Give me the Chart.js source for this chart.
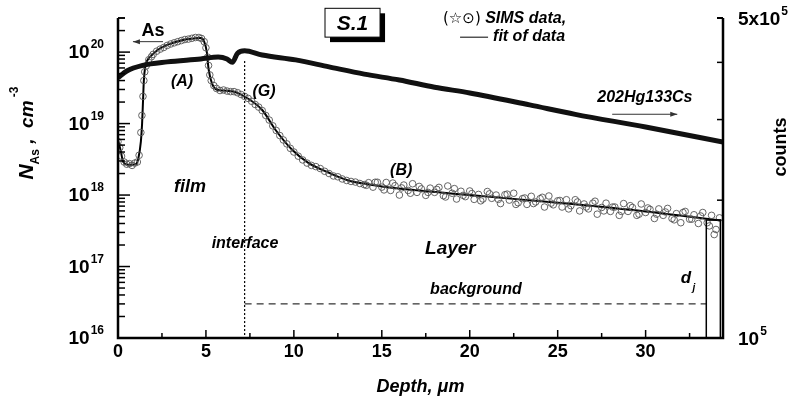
<!DOCTYPE html>
<html><head><meta charset="utf-8">
<script src="https://cdn.jsdelivr.net/npm/chart.js@4.4.1/dist/chart.umd.min.js"></script>
<style>html,body{margin:0;padding:0;background:#fff}</style>
</head><body>
<canvas id="c" width="803" height="400"></canvas>
<script>
// ---------- data ----------
// As concentration fit (depth in um, N_As in cm^-3)
const fitDepth = [0,0.15,0.3,0.6,1.0,1.15,1.3,1.37,1.42,1.47,1.55,1.7,1.85,2.25,2.8,3.7,4.3,4.7,4.9,5.05,5.15,5.35,5.6,6.0,6.7,7.25,8.2,8.95,9.9,10.8,12.0,13.1,14.2,15,20,25,30,34.3];
const fitConc  = [5.9e18,4.2e18,2.9e18,2.65e18,2.7e18,3.2e18,5.6e18,1.0e19,2.0e19,4.0e19,6.3e19,7.9e19,8.7e19,1.07e20,1.26e20,1.48e20,1.55e20,1.58e20,1.4e20,1.0e20,5.8e19,3.6e19,3.0e19,2.9e19,2.75e19,2.35e19,1.55e19,8.2e18,4.3e18,2.85e18,2.05e18,1.6e18,1.42e18,1.32e18,1.0e18,7.8e17,5.9e17,4.4e17];

// SIMS data points (circles)
const simsDepth = [0,0.1,0.2,0.35,0.5,0.65,0.8,0.95,1.1,1.2,1.3,1.36,1.42,1.47,1.52,1.6,1.75,1.9,
  2.0,2.2,2.4,2.6,2.8,3.0,3.2,3.4,3.6,3.8,4.0,4.2,4.4,4.6,4.75,4.9,5.0,5.1,5.15,5.22,5.3,5.45,5.6,5.8,6.0,6.2,6.4,6.6,6.8,7.0,7.2,7.4,7.6,7.8,8.0,8.2,8.4,8.6,8.8,9.0,9.2,9.4,9.6,9.8,10.0,10.25,10.5,10.75,11.0,11.25,11.5,11.75,12.0,12.25,12.5,12.75,13.0,13.25,13.5,13.75,14.0,
  14.25,14.5,14.75,15.0,15.25,15.5,15.75,16.0,16.25,16.5,16.75,17.0,17.25,17.5,17.75,18.0,18.25,18.5,18.75,19.0,19.25,19.5,19.75,20.0,20.25,20.5,20.75,21.0,21.25,21.5,21.75,22.0,22.25,22.5,22.75,23.0,23.25,23.5,23.75,24.0,24.25,24.5,24.75,25.0,25.25,25.5,25.75,26.0,26.25,26.5,26.75,27.0,27.25,27.5,27.75,28.0,28.25,28.5,28.75,29.0,29.25,29.5,29.75,30.0,30.25,30.5,30.75,31.0,31.25,31.5,31.75,32.0,32.25,32.5,32.75,33.0,33.25,33.5,33.75,34.0,34.2,
  14.125,14.625,15.125,15.625,16.125,16.625,17.125,17.625,18.125,18.625,19.125,19.625,20.125,20.625,21.125,21.625,22.125,22.625,23.125,23.625,24.125,24.625,25.125,25.625,26.125,26.625,27.125,27.625,28.125,28.625,29.125,29.625,30.125,30.625,31.125,31.625,32.125,32.625,33.125,33.625,33.9];
const simsConc = [5.6e18,4.6e18,3.5e18,2.9e18,2.7e18,2.75e18,2.6e18,2.8e18,2.9e18,3.6e18,7.5e18,1.3e19,2.4e19,4.0e19,5.3e19,6.4e19,7.8e19,8.6e19,
  9.3e19,1.03e20,1.1e20,1.16e20,1.24e20,1.3e20,1.35e20,1.4e20,1.45e20,1.5e20,1.52e20,1.56e20,1.6e20,1.6e20,1.55e20,1.4e20,1.15e20,8.5e19,6.5e19,4.8e19,4.0e19,3.4e19,3.1e19,2.9e19,2.95e19,2.85e19,2.8e19,2.8e19,2.7e19,2.55e19,2.4e19,2.25e19,2.05e19,1.85e19,1.7e19,1.52e19,1.3e19,1.12e19,9.3e18,8.0e18,6.8e18,5.9e18,5.2e18,4.5e18,4.0e18,3.5e18,3.1e18,2.8e18,2.6e18,2.5e18,2.35e18,2.15e18,2.0e18,1.85e18,1.8e18,1.68e18,1.6e18,1.55e18,1.52e18,1.45e18,1.4e18,
  1.49e18,1.29e18,1.51e18,1.29e18,1.50e18,1.16e18,1.35e18,1.0e18,1.38e18,1.16e18,1.44e18,1.09e18,1.22e18,9.9e17,1.25e18,1.09e18,1.28e18,9.8e17,1.34e18,1.06e18,8.8e17,1.13e18,9.5e17,1.14e18,8.7e17,1.02e18,8.8e17,1.12e18,9.0e17,1.0e18,7.6e17,1.01e18,8.5e17,1.06e18,7.8e17,8.9e17,7.4e17,9.6e17,8.0e17,8.9e17,6.8e17,9.7e17,7.3e17,8.3e17,6.8e17,8.6e17,7.1e17,8.6e17,6.0e17,7.5e17,6.4e17,7.7e17,5.4e17,6.7e17,7.7e17,5.9e17,6.8e17,5.2e17,7.6e17,5.9e17,6.7e17,5.2e17,7.5e17,5.7e17,6.3e17,4.7e17,6.4e17,5.2e17,6.5e17,4.7e17,5.5e17,4.1e17,5.9e17,4.6e17,5.3e17,4.0e17,5.7e17,4.1e17,5.2e17,3.3e17,4.8e17,
  1.37e18,1.51e18,1.18e18,1.47e18,1.26e18,1.06e18,1.32e18,1.09e18,1.2e18,9.4e17,1.23e18,9.9e17,1.05e18,8.3e17,1.04e18,8.7e17,1.03e18,7.4e17,9.1e17,7.6e17,9.3e17,7.7e17,8.4e17,6.4e17,8.0e17,6.8e17,8.2e17,6.0e17,6.8e17,5.9e17,7.1e17,5.4e17,6.6e17,5.4e17,5.8e17,4.5e17,5.7e17,4.6e17,5.1e17,3.7e17,2.8e17];

// 202Hg133Cs counts (right axis)
const countsDepth = [0,0.5,1.4,2.8,4.7,5.7,6.2,6.5,6.8,7.2,8.2,10.1,12,14,16,18,20,23.4,26,30,34.4];
const countsVals  = [3.70e5,3.83e5,3.94e5,4.01e5,4.07e5,4.11e5,4.07e5,4.0e5,4.19e5,4.24e5,4.15e5,4.05e5,3.91e5,3.77e5,3.66e5,3.53e5,3.43e5,3.23e5,3.08e5,2.89e5,2.68e5];

// axes / ticks
const xMin = 0, xMax = 34.4;
const xMajorTicks = [0,5,10,15,20,25,30];
const xMinorTicks = [2.5,7.5,12.5,17.5,22.5,27.5,32.5];
const leftMin = 1e16, leftMax = 3e20;
const leftDecades = [16,17,18,19,20];
const rightMin = 1e5, rightMax = 5e5;
const rightTicks = [1e5,2e5,3e5,4e5,5e5];

// reference marks
const interfaceDepth = 7.2, interfaceTopConc = 7.5e19;
const backgroundConc = 3e16, backgroundFrom = 7.2, backgroundTo = 33.45;
const djFrom = 33.45, djTo = 34.25, djTopConc = 4.47e17;

// ---------- chart ----------
const pts = (xs, ys) => xs.map((x, i) => ({x, y: ys[i]}));
const FONT = '"Liberation Sans", Arial, "DejaVu Sans", sans-serif';

function txt(ctx, s, x, y, font, align, base) {
  ctx.font = font; ctx.textAlign = align || 'center'; ctx.textBaseline = base || 'middle';
  ctx.fillText(s, x, y);
}
function pow10(ctx, base, exp, xLeft, yMid, bf, ef, rightAlign) {
  ctx.font = bf; const wb = ctx.measureText(base).width;
  ctx.font = ef; const we = ctx.measureText(exp).width;
  let x0 = rightAlign ? xLeft - wb - we - 1 : xLeft;
  txt(ctx, base, x0, yMid, bf, 'left', 'middle');
  txt(ctx, exp, x0 + wb + 1, yMid - 8, ef, 'left', 'middle');
}
function arrow(ctx, x1, y, x2) {
  ctx.beginPath(); ctx.moveTo(x1, y); ctx.lineTo(x2, y); ctx.stroke();
  const d = x2 > x1 ? 1 : -1;
  ctx.beginPath(); ctx.moveTo(x2, y); ctx.lineTo(x2 - d*7, y - 2.5); ctx.lineTo(x2 - d*7, y + 2.5); ctx.closePath(); ctx.fill();
}

const deco = {
  id: 'deco',
  afterDraw(chart) {
    const ctx = chart.ctx, a = chart.chartArea;
    const X = chart.scales.x, Y = chart.scales.y, Y2 = chart.scales.y2;
    const px = v => X.getPixelForValue(v), py = v => Y.getPixelForValue(v), py2 = v => Y2.getPixelForValue(v);
    ctx.save();
    ctx.fillStyle = '#000'; ctx.strokeStyle = '#000';

    // interface dotted line
    ctx.lineWidth = 1.2; ctx.setLineDash([2, 2]);
    ctx.beginPath(); ctx.moveTo(px(interfaceDepth), py(interfaceTopConc)); ctx.lineTo(px(interfaceDepth), a.bottom); ctx.stroke();
    // background dashed line
    ctx.lineWidth = 1; ctx.setLineDash([7, 5]);
    ctx.beginPath(); ctx.moveTo(px(backgroundFrom), py(backgroundConc)); ctx.lineTo(px(backgroundTo), py(backgroundConc)); ctx.stroke();
    ctx.setLineDash([]);
    // d_j box
    ctx.lineWidth = 1.5;
    ctx.strokeRect(px(djFrom), py(djTopConc), px(djTo) - px(djFrom), py(leftMin) - py(djTopConc));

    // axes lines
    ctx.lineWidth = 2.5;
    ctx.beginPath();
    ctx.moveTo(a.left, a.top); ctx.lineTo(a.left, a.bottom); ctx.lineTo(a.right, a.bottom); ctx.lineTo(a.right, a.top);
    ctx.stroke();
    ctx.lineWidth = 2;
    ctx.beginPath(); ctx.moveTo(a.right - 6, a.top); ctx.lineTo(a.right, a.top); ctx.stroke();
    // left ticks
    ctx.lineWidth = 1.5;
    leftDecades.forEach(d => {
      const y = py(Math.pow(10, d));
      ctx.beginPath(); ctx.moveTo(a.left, y); ctx.lineTo(a.left + 12, y); ctx.stroke();
      for (let m = 2; m <= 9; m++) {
        const v = m * Math.pow(10, d);
        if (v > leftMax) break;
        const yy = py(v);
        ctx.beginPath(); ctx.moveTo(a.left, yy); ctx.lineTo(a.left + 7, yy); ctx.stroke();
      }
      pow10(ctx, '10', String(d), 104, y + 1, 'bold 19px ' + FONT, 'bold 12px ' + FONT, true);
    });
    ctx.beginPath(); ctx.moveTo(a.left, a.top); ctx.lineTo(a.left + 7, a.top); ctx.stroke();
    // right ticks
    rightTicks.forEach(v => {
      const y = py2(v);
      ctx.beginPath(); ctx.moveTo(a.right, y); ctx.lineTo(a.right - 6, y); ctx.stroke();
    });
    pow10(ctx, '5x10', '5', 738, py2(rightMax) + 2, 'bold 19px ' + FONT, 'bold 12px ' + FONT, false);
    pow10(ctx, '10', '5', 738, py2(rightMin) + 2, 'bold 19px ' + FONT, 'bold 12px ' + FONT, false);
    // bottom ticks
    xMajorTicks.forEach(v => {
      const x = px(v);
      ctx.beginPath(); ctx.moveTo(x, a.bottom); ctx.lineTo(x, a.bottom - 8); ctx.stroke();
      txt(ctx, String(v), x, a.bottom + 14, 'bold 18px ' + FONT);
    });
    xMinorTicks.forEach(v => {
      const x = px(v);
      ctx.beginPath(); ctx.moveTo(x, a.bottom); ctx.lineTo(x, a.bottom - 5); ctx.stroke();
    });
    // axis titles
    txt(ctx, 'Depth, \u03BCm', (a.left + a.right) / 2, 387, 'italic bold 18px ' + FONT);
    ctx.save(); ctx.translate(781, 147); ctx.rotate(-Math.PI / 2);
    txt(ctx, 'counts', 0, 0, 'bold 18px ' + FONT);
    ctx.restore();
    // left title N_As, cm^-3
    ctx.save(); ctx.translate(33, 133); ctx.rotate(-Math.PI / 2);
    const fN = 'italic bold 21px ' + FONT, fS = 'bold 12px ' + FONT, fC = 'italic bold 19px ' + FONT, fE = 'bold 12px ' + FONT;
    const parts = [['N', fN, 0], ['As', fS, 6], [' ,  cm', fC, 0], [' -3', fE, -15]];
    let tot = 0; parts.forEach(p => { ctx.font = p[1]; p.push(ctx.measureText(p[0]).width); tot += p[3]; });
    let u = -tot / 2;
    parts.forEach(p => { txt(ctx, p[0], u, p[2], p[1], 'left', 'alphabetic'); u += p[3]; });
    ctx.restore();

    // annotations
    const fA = 'italic bold 16px ' + FONT;
    txt(ctx, 'As', px(1.99), py(2.0e20), 'bold 18px ' + FONT);
    ctx.lineWidth = 1; ctx.strokeStyle = '#333'; ctx.fillStyle = '#333';
    arrow(ctx, px(2.56), py(1.4e20), px(0.85));
    arrow(ctx, px(28.1), py(1.35e19), px(31.8));
    ctx.fillStyle = '#000'; ctx.strokeStyle = '#000';
    txt(ctx, '(A)', px(3.64), py(3.9e19), fA);
    txt(ctx, '(G)', px(8.3), py(2.8e19), fA);
    txt(ctx, '(B)', px(16.1), py(2.2e18), fA);
    txt(ctx, 'film', px(4.1), py(1.3e18), 'italic bold 18px ' + FONT);
    txt(ctx, 'interface', px(7.22), py(2.1e17), fA);
    txt(ctx, 'Layer', px(18.9), py(1.8e17), 'italic bold 19px ' + FONT);
    txt(ctx, 'background', px(20.35), py(4.7e16), fA);
    txt(ctx, 'd', px(32.3), py(6.8e16), 'italic bold 17px ' + FONT);
    txt(ctx, 'j', px(32.75), py(5.0e16), 'italic bold 10px ' + FONT);
    txt(ctx, '202Hg133Cs', px(29.96), py(2.3e19), fA);

    // S.1 box with shadow
    const bx1 = px(11.77), bx2 = px(14.9), by1 = py(4.1e20), by2 = py(1.62e20);
    ctx.fillRect(bx1 + 5, by1 + 5, bx2 - bx1, by2 - by1);
    ctx.fillStyle = '#fff'; ctx.fillRect(bx1, by1, bx2 - bx1, by2 - by1);
    ctx.lineWidth = 1; ctx.strokeRect(bx1, by1, bx2 - bx1, by2 - by1);
    ctx.fillStyle = '#000';
    txt(ctx, 'S.1', (bx1 + bx2) / 2, (by1 + by2) / 2 + 1, 'italic bold 21px ' + FONT);

    // legend text
    const lx = px(18.48), ly1 = py(2.9e20), ly2 = py(1.67e20);
    ctx.font = '15px "DejaVu Sans", sans-serif';
    txt(ctx, '(\u2606\u2299)', lx, ly1, '15px "DejaVu Sans", sans-serif', 'left');
    const w0 = ctx.measureText('(\u2606\u2299)').width;
    txt(ctx, ' SIMS data,', lx + w0, ly1, 'italic bold 16px ' + FONT, 'left');
    const lx2 = px(19.45);
    ctx.lineWidth = 1;
    ctx.beginPath(); ctx.moveTo(lx2, ly2 + 1); ctx.lineTo(lx2 + 28, ly2 + 1); ctx.stroke();
    txt(ctx, 'fit of data', lx2 + 33, ly2, 'italic bold 16px ' + FONT, 'left');

    ctx.restore();
  }
};

new Chart(document.getElementById('c'), {
  type: 'scatter',
  data: {
    datasets: [
      { label: '202Hg133Cs', data: pts(countsDepth, countsVals), yAxisID: 'y2', showLine: true,
        borderColor: '#111', borderWidth: 5, pointRadius: 0, cubicInterpolationMode: 'monotone' },
      { label: 'SIMS data', data: pts(simsDepth, simsConc), yAxisID: 'y', showLine: false,
        pointRadius: 3.3, pointStyle: 'circle', borderColor: '#555', borderWidth: 0.9, backgroundColor: 'rgba(255,255,255,0)' },
      { label: 'fit of data', data: pts(fitDepth, fitConc), yAxisID: 'y', showLine: true,
        borderColor: '#000', borderWidth: 2, pointRadius: 0, cubicInterpolationMode: 'monotone' }
    ]
  },
  options: {
    responsive: false, animation: false, devicePixelRatio: 1,
    layout: { padding: { left: 118, right: 80, top: 18, bottom: 62 } },
    plugins: { legend: { display: false }, tooltip: { enabled: false } },
    scales: {
      x: { type: 'linear', min: xMin, max: xMax, display: false },
      y: { type: 'logarithmic', min: leftMin, max: leftMax, display: false, position: 'left' },
      y2: { type: 'logarithmic', min: rightMin, max: rightMax, display: false, position: 'right' }
    }
  },
  plugins: [deco]
});
</script>
</body></html>
